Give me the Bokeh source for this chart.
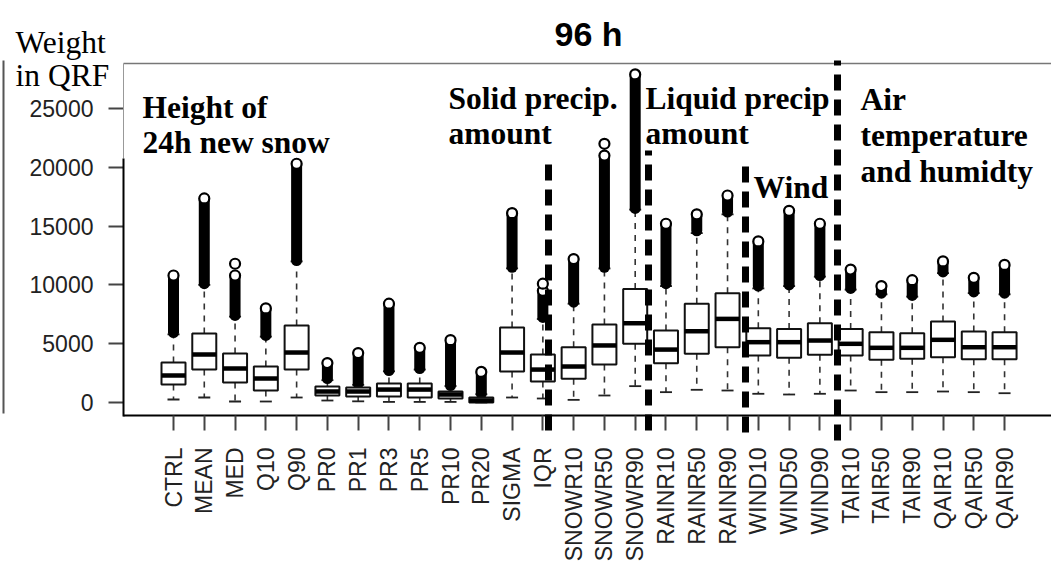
from bokeh.plotting import figure
from bokeh.models import Range1d, FixedTicker, Label, Arrow, ColumnDataSource, NumeralTickFormatter
from bokeh.transform import dodge
from bokeh.embed import file_html
from bokeh.resources import INLINE

# ---------------- data ----------------
cats = ["CTRL", "MEAN", "MED", "Q10", "Q90", "PR0", "PR1", "PR3", "PR5", "PR10", "PR20",
        "SIGMA", "IQR", "SNOWR10", "SNOWR50", "SNOWR90", "RAINR10", "RAINR50", "RAINR90",
        "WIND10", "WIND50", "WIND90", "TAIR10", "TAIR50", "TAIR90", "QAIR10", "QAIR50", "QAIR90"]
q1 = [1530, 2800, 1700, 1020, 2800, 600, 510, 510, 430, 340, 0,
      2640, 1785, 2010, 3230, 4990, 3340, 4140, 4700,
      4000, 3800, 4050, 4000, 3630, 3710, 3850, 3680, 3680]
med = [2300, 4080, 2890, 2040, 4250, 935, 935, 1100, 1100, 680, 170,
       4250, 2800, 3060, 4850, 6740, 4500, 6060, 7110,
       5130, 5130, 5270, 4990, 4650, 4650, 5330, 4700, 4700]
q3 = [3400, 5870, 4170, 3060, 6550, 1360, 1275, 1615, 1615, 935, 425,
      6380, 4080, 4700, 6630, 9660, 6120, 8390, 9290,
      6320, 6260, 6740, 6260, 5980, 5890, 6880, 6040, 5980]
wlo = [255, 425, 85, 85, 425, 170, 100, 50, 50, 50, 0,
       425, 340, 225, 595, 1390, 880, 1080, 1020,
       740, 680, 740, 1020, 880, 880, 935, 880, 790]
whi = [5800, 10000, 7300, 5600, 12000, 1900, 1500, 2650, 2800, 1400, 700,
       11400, 7100, 8400, 11400, 16400, 9900, 14400, 16000,
       9700, 9900, 10700, 9600, 9200, 9000, 11000, 9300, 9200]
out_lo = [5950, 10100, 7400, 5700, 12070, 2040, 1600, 2720, 2890, 1445, 765,
          11500, 7230, 8530, 11500, 16500, 10100, 14600, 16200,
          9900, 10000, 10800, 9700, 9300, 9100, 11100, 9400, 9300]
out_hi = [10800, 17350, 10800, 8000, 20300, 3350, 4200, 8400, 4650, 5300, 2600,
          16100, 9500, 12200, 21000, 27900, 15200, 16000, 17600,
          13700, 16300, 15200, 11300, 9900, 10400, 12000, 10600, 11700]
iso_cat = ["MED", "IQR", "SNOWR50"]
iso_val = [11800, 10100, 22000]
y_ticks = [0, 5000, 10000, 15000, 20000, 25000]

# ---------------- layout ----------------
W, H = 1051, 563
X0_PX, DX = 173, 30.78          # page px of first category, px per category
Y0_PX, DY = 402, 58.8 / 5000    # page px of value 0, px per unit

def px(page_x):
    return 1 + (page_x - X0_PX) / DX

def py(page_y):
    return (Y0_PX - page_y) / DY

xs = list(range(1, len(cats) + 1))
idx = {c: i + 1 for i, c in enumerate(cats)}

p = figure(width=W, height=H, output_backend="svg", toolbar_location=None, title=None,
           x_range=Range1d(px(0), px(W)), y_range=Range1d(py(H), py(0)),
           min_border_left=0, min_border_right=0, min_border_top=0, min_border_bottom=0)
p.outline_line_color = None
p.grid.visible = False
p.background_fill_color = "white"

AX_FONT = "Liberation Sans"
for ax in (p.xaxis[0], p.yaxis[0]):
    ax.major_tick_out = 15
    ax.major_tick_in = 0
    ax.major_tick_line_width = 2
    ax.major_tick_line_color = "#444"
    ax.minor_tick_line_color = None
    ax.major_label_text_font = AX_FONT
    ax.major_label_text_color = "#222"
    ax.major_label_text_font_size = "23px"

p.xaxis.fixed_location = py(415)
p.xaxis.bounds = (px(123), px(W))
p.xaxis.ticker = FixedTicker(ticks=xs)
p.xaxis.major_label_overrides = {x: c for x, c in zip(xs, cats)}
p.xaxis.major_label_orientation = 3.14159265 / 2
p.xaxis.major_label_standoff = 17
p.xaxis.axis_line_width = 2
p.xaxis.axis_line_color = "black"

p.yaxis.fixed_location = px(123)
p.yaxis.ticker = FixedTicker(ticks=y_ticks)
p.yaxis.formatter = NumeralTickFormatter(format="0")
p.yaxis.major_label_standoff = 15
p.yaxis.axis_line_color = None

src = ColumnDataSource(dict(x=xs, q1=q1, med=med, q3=q3, wlo=wlo, whi=whi,
                            olo=out_lo, ohi=out_hi))

BW = 0.78
# whiskers
p.segment(x0="x", x1="x", y0="q3", y1="whi", source=src, line_color="#333",
          line_width=1.6, line_dash="6 6")
p.segment(x0="x", x1="x", y0="q1", y1="wlo", source=src, line_color="#333",
          line_width=1.6, line_dash="6 6")
p.segment(x0=dodge("x", -BW / 4), x1=dodge("x", BW / 4), y0="whi", y1="whi", source=src,
          line_color="#222", line_width=1.8)
p.segment(x0=dodge("x", -BW / 4), x1=dodge("x", BW / 4), y0="wlo", y1="wlo", source=src,
          line_color="#222", line_width=1.8)
# outlier stacks
p.segment(x0="x", x1="x", y0="olo", y1="ohi", source=src, line_color="black",
          line_width=11, line_cap="round")
p.scatter(x="x", y="ohi", source=src, size=10, fill_color="white", line_color="black",
          line_width=2.2)
p.scatter(x=[idx[c] for c in iso_cat], y=iso_val, size=10, fill_color="white",
          line_color="black", line_width=2.2)
# boxes
p.vbar(x="x", width=BW, top="q3", bottom="q1", source=src, fill_color="white",
       line_color="#111", line_width=2)
p.segment(x0=dodge("x", -BW / 2), x1=dodge("x", BW / 2), y0="med", y1="med", source=src,
          line_color="black", line_width=4.5)

def rule(x0, y0, x1, y1, color="black", width=2, dash="solid"):
    p.add_layout(Arrow(end=None, x_start=px(x0), y_start=py(y0), x_end=px(x1), y_end=py(y1),
                       line_color=color, line_width=width, line_dash=dash))

# frame: top line, left thin part, left thick part, stray line at page edge
rule(123, 63, W, 63, color="#777", width=1.5)
rule(123, 63, 123, 158, color="#999", width=1)
rule(123, 158, 123, 416, color="black", width=2)
rule(3, 60, 3, 413, color="#555", width=2)

# dashed group separators
for sx, top, bot in [(548, 157, 430), (648, 150, 430), (745, 160, 432), (837, 60, 440)]:
    rule(sx, bot, sx, top, width=7, dash="16 9")

def lab(text, x, base, size="31.5px", font="Liberation Serif", style="bold", align="left"):
    p.add_layout(Label(x=px(x), y=py(base), text=text, text_font=font, text_font_size=size,
                       text_font_style=style, text_align=align, text_baseline="alphabetic",
                       text_color="black"))

lab("96 h", 588, 33, size="34px", font="Liberation Sans", align="center")
lab("Weight", 15, 42, style="normal")
lab("in QRF", 15, 75, style="normal")
lab("Height of", 142, 107)
lab("24h new snow", 142, 142)
lab("Solid precip.", 448, 98)
lab("amount", 448, 133)
lab("Liquid precip", 645, 98)
lab("amount", 645, 133)
lab("Wind", 753, 187)
lab("Air", 860, 99)
lab("temperature", 860, 135)
lab("and humidty", 860, 171)

open("out.html", "w").write(file_html(p, INLINE))
